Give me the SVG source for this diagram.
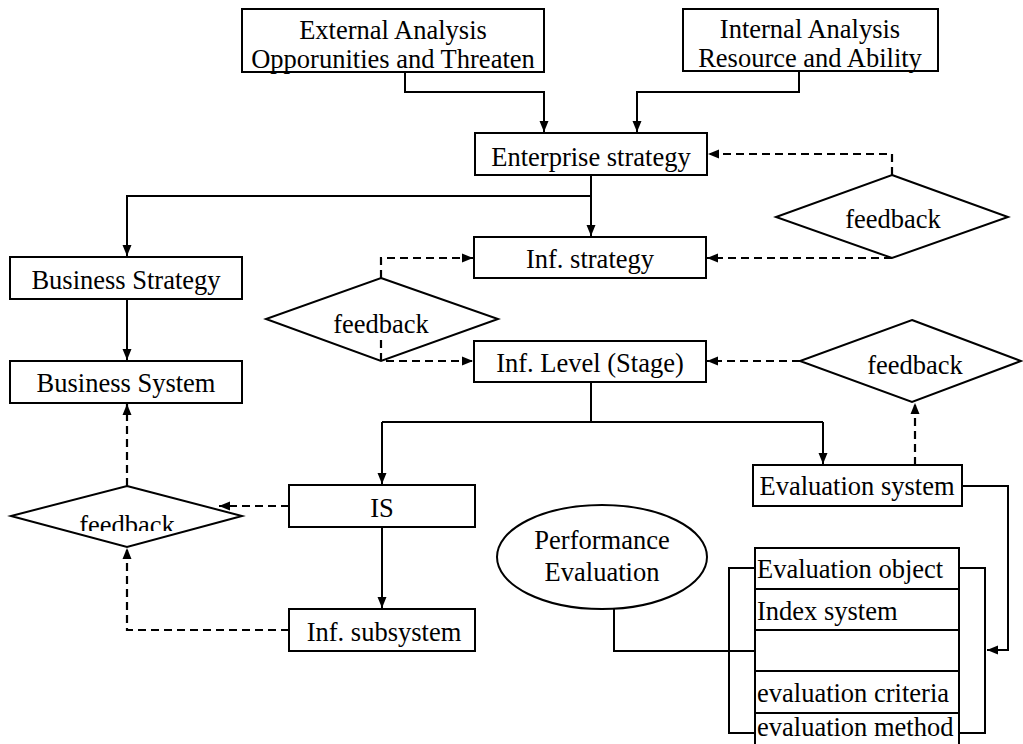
<svg xmlns="http://www.w3.org/2000/svg" width="1023" height="744" viewBox="0 0 1023 744">
<style>
.box{fill:#fff;stroke:#000;stroke-width:2}
.shape{fill:#fff;stroke:#000;stroke-width:2}
.t{font-family:"Liberation Serif","Times New Roman",serif;font-size:26.5px;fill:#000}
.c{text-anchor:middle}
.ln{fill:none;stroke:#000;stroke-width:2}
.dl{fill:none;stroke:#000;stroke-width:2.2;stroke-dasharray:8 5}
</style>
<defs>
<marker id="ah" markerUnits="userSpaceOnUse" markerWidth="12" markerHeight="10" refX="11" refY="5" orient="auto">
<path d="M0,0.5 L11,5 L0,9.5 z" fill="#000"/>
</marker>
<clipPath id="fbclip"><rect x="0" y="480" width="260" height="51"/></clipPath>
</defs>
<rect width="1023" height="744" fill="#fff"/>

<g id="connectors">
<polyline class="ln" points="405,72 405,92 544,92 544,132" marker-end="url(#ah)"/>
<polyline class="ln" points="799,71 799,92 637,92 637,132" marker-end="url(#ah)"/>
<polyline class="dl" points="892,175 892,154 708,154" marker-end="url(#ah)"/>
<polyline class="ln" points="591,175 591,236" marker-end="url(#ah)"/>
<polyline class="ln" points="591,196 127,196 127,256" marker-end="url(#ah)"/>
<polyline class="ln" points="127,299 127,360" marker-end="url(#ah)"/>
<polyline class="dl" points="381,278 381,258 473,258" marker-end="url(#ah)"/>
<polyline class="dl" points="381,340 381,361 473,361" marker-end="url(#ah)"/>
<polyline class="dl" points="892,258 707,258" marker-end="url(#ah)"/>
<polyline class="dl" points="800,361 707,361" marker-end="url(#ah)"/>
<polyline class="ln" points="591,382 591,422"/>
<polyline class="ln" points="382,422 823,422"/>
<polyline class="ln" points="382,422 382,484" marker-end="url(#ah)"/>
<polyline class="ln" points="823,422 823,464" marker-end="url(#ah)"/>
<polyline class="ln" points="382,527 382,608" marker-end="url(#ah)"/>
<polyline class="dl" points="289,506 219,506" marker-end="url(#ah)"/>
<polyline class="dl" points="127,486 127,404" marker-end="url(#ah)"/>
<polyline class="dl" points="289,630 127,630 127,548" marker-end="url(#ah)"/>
<polyline class="dl" points="915,465 915,403" marker-end="url(#ah)"/>
<polyline class="ln" points="962,486 1008,486 1008,650 987,650" marker-end="url(#ah)"/>
<polyline class="ln" points="614,608 614,651 755,651"/>
<polyline class="ln" points="755,568 729,568 729,733 755,733"/>
<polyline class="ln" points="959,568 985,568 985,733 959,733"/>
</g>

<g id="external">
<rect class="box" x="242" y="9" width="302" height="63"/>
<text class="t c" x="393" y="39">External Analysis</text>
<text class="t c" x="393" y="68">Opporunities and Threaten</text>
</g>
<g id="internal">
<rect class="box" x="683" y="9" width="255" height="62"/>
<text class="t c" x="810" y="38">Internal Analysis</text>
<text class="t c" x="810" y="67">Resource and Ability</text>
</g>
<g id="enterprise-strategy">
<rect class="box" x="475" y="133" width="232" height="42"/>
<text class="t c" x="591" y="166">Enterprise strategy</text>
</g>
<g id="feedback-top">
<polygon class="shape" points="892,175 1008,217 892,258 776,217"/>
<text class="t c" x="893" y="228">feedback</text>
</g>
<g id="business-strategy">
<rect class="box" x="10" y="257" width="232" height="42"/>
<text class="t c" x="126" y="289">Business Strategy</text>
</g>
<g id="business-system">
<rect class="box" x="10" y="361" width="232" height="42"/>
<text class="t c" x="126" y="392">Business System</text>
</g>
<g id="inf-strategy">
<rect class="box" x="474" y="237" width="232" height="41"/>
<text class="t c" x="590" y="268">Inf. strategy</text>
</g>
<g id="feedback-mid-left">
<polygon class="shape" points="381,278 498,319 381,361 266,319"/>
<text class="t c" x="381" y="333">feedback</text>
</g>
<polyline class="dl" points="381,340 381,361"/>
<g id="inf-level">
<rect class="box" x="474" y="341" width="232" height="41"/>
<text class="t c" x="590" y="372">Inf. Level (Stage)</text>
</g>
<g id="feedback-mid-right">
<polygon class="shape" points="912,320 1021,361 912,402 800,361"/>
<text class="t c" x="915" y="374">feedback</text>
</g>
<g id="is">
<rect class="box" x="289" y="485" width="186" height="42"/>
<text class="t c" x="382" y="517">IS</text>
</g>
<g id="feedback-bottom-left">
<polygon class="shape" points="127,486 242,516 127,547 11,516"/>
<text class="t c" x="127" y="534" clip-path="url(#fbclip)">feedback</text>
</g>
<g id="inf-subsystem">
<rect class="box" x="289" y="609" width="186" height="42"/>
<text class="t c" x="384" y="641">Inf. subsystem</text>
</g>
<g id="evaluation-system">
<rect class="box" x="753" y="465" width="209" height="41"/>
<text class="t c" x="857" y="495">Evaluation system</text>
</g>
<g id="performance-evaluation">
<ellipse class="shape" cx="602" cy="557" rx="105" ry="52"/>
<text class="t c" x="602" y="549">Performance</text>
<text class="t c" x="602" y="581">Evaluation</text>
</g>
<g id="evaluation-list">
<rect class="box" x="755" y="548" width="204" height="41"/>
<text class="t" x="757" y="578">Evaluation object</text>
<rect class="box" x="755" y="589" width="204" height="41"/>
<text class="t" x="757" y="620">Index system</text>
<rect class="box" x="755" y="630" width="204" height="41"/>
<rect class="box" x="755" y="671" width="204" height="42"/>
<text class="t" x="757" y="702">evaluation criteria</text>
<rect class="box" x="755" y="713" width="204" height="42"/>
<text class="t" x="757" y="736">evaluation method</text>
</g>
</svg>
